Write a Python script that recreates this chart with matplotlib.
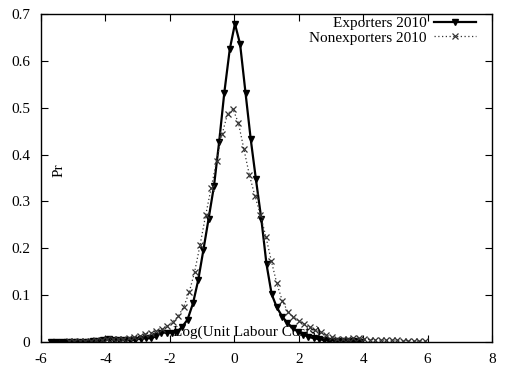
import matplotlib
matplotlib.use('Agg')
import matplotlib.pyplot as plt

plt.rcParams['font.family'] = ['Liberation Serif', 'DejaVu Serif']

# Exporters 2010
exp_x = [-5.69, -5.53, -5.36, -5.20, -5.04, -4.87, -4.71, -4.55, -4.38, -4.22,
         -4.06, -3.89, -3.73, -3.57, -3.40, -3.24, -3.08, -2.91, -2.75, -2.59,
         -2.43, -2.26, -2.10, -1.94, -1.77, -1.61, -1.45, -1.28, -1.12, -0.96,
         -0.80, -0.63, -0.47, -0.31, -0.14, 0.02, 0.18, 0.35, 0.51, 0.67,
         0.84, 1.00, 1.16, 1.32, 1.49, 1.65, 1.81, 1.98, 2.14, 2.30,
         2.47, 2.63, 2.79, 2.95, 3.12, 3.28, 3.44, 3.61, 3.77, 3.93]
exp_y = [0.000, 0.000, 0.000, 0.000, 0.001, 0.001, 0.001, 0.001, 0.002, 0.002,
         0.005, 0.006, 0.005, 0.004, 0.004, 0.004, 0.005, 0.007, 0.008, 0.008,
         0.012, 0.020, 0.020, 0.020, 0.022, 0.033, 0.048, 0.083, 0.132, 0.196,
         0.262, 0.333, 0.427, 0.532, 0.625, 0.679, 0.636, 0.531, 0.433, 0.348,
         0.262, 0.166, 0.102, 0.074, 0.054, 0.041, 0.030, 0.022, 0.016, 0.011,
         0.008, 0.006, 0.004, 0.003, 0.003, 0.002, 0.002, 0.003, 0.002, 0.001]

# Nonexporters 2010
non_x = [-5.14, -4.97, -4.80, -4.63, -4.46, -4.29, -4.12, -3.95, -3.78, -3.61,
         -3.44, -3.27, -3.10, -2.93, -2.76, -2.59, -2.42, -2.25, -2.08, -1.91,
         -1.74, -1.57, -1.40, -1.23, -1.06, -0.89, -0.72, -0.55, -0.38, -0.21,
         -0.04, 0.13, 0.30, 0.47, 0.64, 0.81, 0.98, 1.15, 1.32, 1.49,
         1.66, 1.83, 2.00, 2.17, 2.34, 2.51, 2.68, 2.85, 3.02, 3.19,
         3.36, 3.53, 3.70, 3.87, 4.04, 4.21, 4.38, 4.55, 4.72, 4.89,
         5.06, 5.23, 5.40, 5.57, 5.74, 5.91]
non_y = [0.002, 0.003, 0.003, 0.003, 0.003, 0.004, 0.005, 0.006, 0.006, 0.006,
         0.007, 0.008, 0.010, 0.013, 0.017, 0.020, 0.024, 0.028, 0.034, 0.043,
         0.055, 0.075, 0.106, 0.150, 0.208, 0.270, 0.328, 0.386, 0.443, 0.487,
         0.497, 0.467, 0.411, 0.356, 0.312, 0.272, 0.225, 0.173, 0.125, 0.088,
         0.065, 0.054, 0.045, 0.038, 0.031, 0.026, 0.021, 0.015, 0.010, 0.007,
         0.006, 0.007, 0.008, 0.008, 0.006, 0.005, 0.005, 0.004, 0.004, 0.004,
         0.004, 0.003, 0.003, 0.002, 0.002, 0.003]

x_ticks = [-6, -4, -2, 0, 2, 4, 6, 8]
y_ticks = [0, 0.1, 0.2, 0.3, 0.4, 0.5, 0.6, 0.7]

fig = plt.figure(figsize=(5.07, 3.67), dpi=100)
ax = fig.add_axes([41/507, 25/367, 451/507, 328/367])

ax.plot(exp_x, exp_y, color='black', lw=1.6, marker='v', markersize=5,
        label='Exporters 2010')
ax.plot(non_x, non_y, color='#333333', lw=0.9, ls=(0, (1, 2)), marker='x',
        markersize=3.8, markeredgewidth=0.9, label='Nonexporters 2010')

ax.set_xlim(-6, 8)
ax.set_ylim(0, 0.7)
ax.set_xticks(x_ticks)
ax.set_xticklabels([str(t) for t in x_ticks])
ax.set_yticks(y_ticks)
ax.set_yticklabels(['0' if t == 0 else str(t) for t in y_ticks])
ax.tick_params(direction='in', top=True, right=True, length=5, width=0.8,
               labelsize=11)
ax.tick_params(axis='x', pad=8)
ax.tick_params(axis='y', pad=8)
for s in ax.spines.values():
    s.set_linewidth(1.0)

ax.text(-5.45, 0.367, 'Pr', rotation=90, fontsize=11, va='center', ha='center')
ax.text(0.4, 0.021, 'Log(Unit Labour Costs)', fontsize=11, va='center', ha='center')

leg = ax.legend(loc='upper right', bbox_to_anchor=(0.967, 0.997), frameon=False,
                markerfirst=False, fontsize=11, handlelength=2.7,
                handletextpad=0.5, labelspacing=0.05, borderaxespad=0,
                borderpad=0.1)

plt.savefig('out.png', dpi=100)
